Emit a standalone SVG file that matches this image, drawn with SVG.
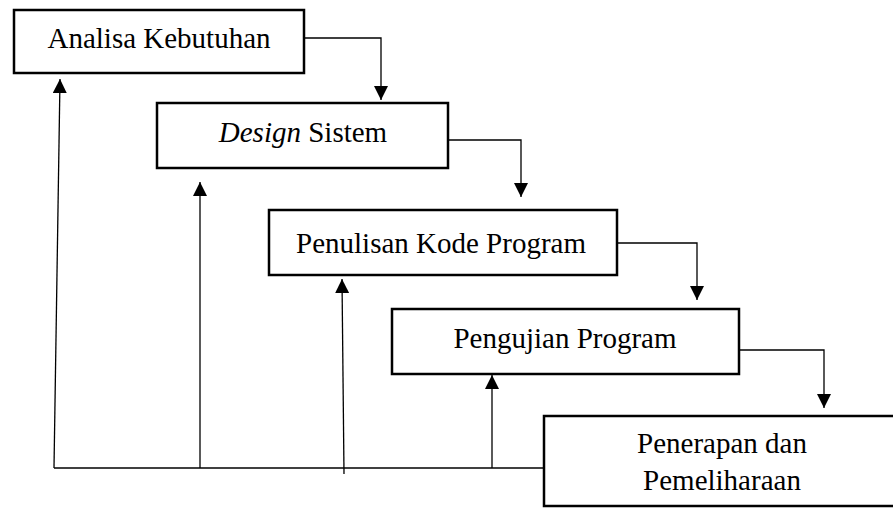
<svg xmlns="http://www.w3.org/2000/svg" width="893" height="508" viewBox="0 0 893 508">
<style>
  .box { fill: #fff; stroke: #000; stroke-width: 2.5; }
  .lbl { font-family: "Liberation Serif", "Times New Roman", serif; font-size: 29px; fill: #000; text-anchor: middle; }
  .con { fill: none; stroke: #000; stroke-width: 1.3; }
</style>
<defs>
  <marker id="ah" markerUnits="userSpaceOnUse" markerWidth="15" markerHeight="15" refX="14" refY="7" orient="auto">
    <path d="M0,0 L14,7 L0,14 z" fill="#000"/>
  </marker>
</defs>
<rect width="893" height="508" fill="#fff"/>
<g id="connectors">
  <path class="con" d="M304,38 H381 V100" marker-end="url(#ah)"/>
  <path class="con" d="M448,140 H521 V197" marker-end="url(#ah)"/>
  <path class="con" d="M617,243 H697 V300" marker-end="url(#ah)"/>
  <path class="con" d="M739,350 H824 V408" marker-end="url(#ah)"/>
  <path class="con" d="M54,468 H544"/>
  <path class="con" d="M54,468 L60,79" marker-end="url(#ah)"/>
  <path class="con" d="M200,468 V182" marker-end="url(#ah)"/>
  <path class="con" d="M344,474 L342,279" marker-end="url(#ah)"/>
  <path class="con" d="M492,468 V375" marker-end="url(#ah)"/>
</g>
<g id="analisa">
  <rect class="box" x="14" y="10" width="290" height="63"/>
  <text class="lbl" x="159" y="48">Analisa Kebutuhan</text>
</g>
<g id="design">
  <rect class="box" x="157" y="103" width="291" height="65"/>
  <text class="lbl" x="303" y="142"><tspan font-style="italic">Design</tspan> Sistem</text>
</g>
<g id="penulisan">
  <rect class="box" x="269" y="210" width="348" height="65"/>
  <text class="lbl" x="441" y="253">Penulisan Kode Program</text>
</g>
<g id="pengujian">
  <rect class="box" x="392" y="309" width="347" height="65"/>
  <text class="lbl" x="565" y="348">Pengujian Program</text>
</g>
<g id="penerapan">
  <rect class="box" x="544" y="416" width="360" height="90"/>
  <text class="lbl" x="722" y="453">Penerapan dan</text>
  <text class="lbl" x="722" y="490">Pemeliharaan</text>
</g>
</svg>
